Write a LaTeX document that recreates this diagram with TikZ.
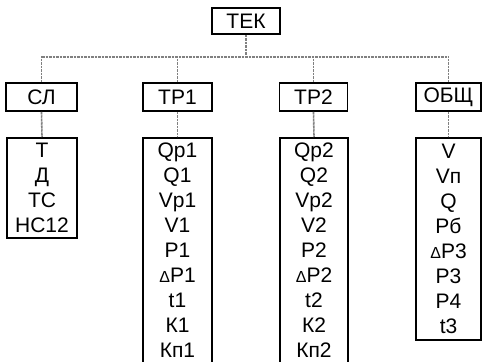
\documentclass[tikz,border=0pt]{standalone}
\usepackage{fontspec}
\setmainfont{Liberation Sans}
\newcommand{\dlt}{{\fontsize{16}{16}\selectfont Δ}}
\begin{document}
\begin{tikzpicture}[x=1pt,y=-1pt,
  box/.style={draw, line width=1.6pt, inner sep=0pt, font=\fontsize{21}{25}\selectfont, align=center},
  conn/.style={line width=1.6pt, black!50, dash pattern=on 1pt off 0.4pt}]
\useasboundingbox (0,0) rectangle (484,361);
% top
\node[box, minimum width=68pt, minimum height=26pt] (tek) at (246,21) {ТЕК};
% level 2
\node[box, minimum width=71pt, minimum height=28pt] (sl) at (41.5,97) {СЛ};
\node[box, minimum width=69pt, minimum height=28pt] (tr1) at (177.5,97) {ТР1};
\node[box, minimum width=68pt, minimum height=28pt] (tr2) at (313.5,97) {ТР2};
\node[box, minimum width=65pt, minimum height=28pt] (obsh) at (448.5,97) {ОБЩ};
% lists
\node[box, anchor=north, minimum width=70pt, minimum height=100pt] (slL) at (42,137) {Т\\Д\\ТС\\НС12};
\node[box, anchor=north, minimum width=69pt, minimum height=225pt] (tr1L) at (177.5,137) {Qp1\\Q1\\Vp1\\V1\\P1\\\dlt P1\\t1\\К1\\Кп1};
\node[box, anchor=north, minimum width=68pt, minimum height=225pt] (tr2L) at (314,137) {Qp2\\Q2\\Vp2\\V2\\P2\\\dlt P2\\t2\\К2\\Кп2};
\node[box, anchor=north, minimum width=65pt, minimum height=202pt] (obshL) at (448.5,137) {V\\Vп\\Q\\Pб\\\dlt P3\\P3\\P4\\t3};
% connectors
\coordinate (bus) at (246,57);
\draw[conn] (tek.south) -- (bus);
\draw[conn] (sl.north) -- (sl.north |- bus) -- (obsh.north |- bus) -- (obsh.north);
\draw[conn] (tr1.north) -- (tr1.north |- bus);
\draw[conn] (tr2.north) -- (tr2.north |- bus);
\draw[conn] (sl.south) -- (slL.north);
\draw[conn] (tr1.south) -- (tr1L.north);
\draw[conn] (tr2.south) -- (tr2L.north);
\draw[conn] (obsh.south) -- (obshL.north);
\end{tikzpicture}
\end{document}
